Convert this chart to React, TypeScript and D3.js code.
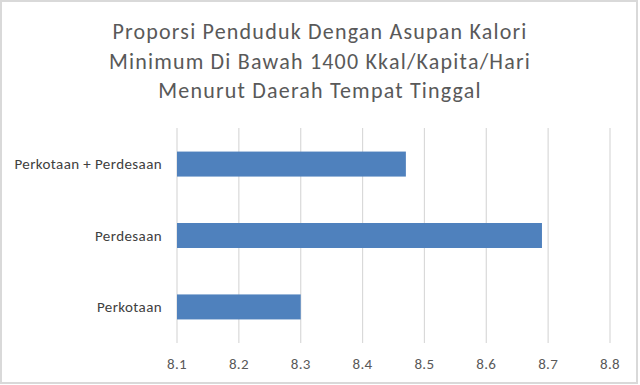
import * as d3 from 'd3'

const categories = ['Perkotaan + Perdesaan', 'Perdesaan', 'Perkotaan']
const values = [8.47, 8.69, 8.3]
const xTicks = [8.1, 8.2, 8.3, 8.4, 8.5, 8.6, 8.7, 8.8]
const titleLines = [
  'Proporsi Penduduk  Dengan Asupan Kalori',
  'Minimum Di Bawah 1400 Kkal/Kapita/Hari',
  'Menurut Daerah Tempat Tinggal',
]

export default function App() {
  const width = 640
  const height = 385
  const margin = { top: 128, right: 30, bottom: 42, left: 177 }
  const innerH = height - margin.top - margin.bottom

  const x = d3.scaleLinear().domain([8.1, 8.8]).range([0, 433])
  const y = d3.scaleBand().domain(categories).range([0, innerH]).paddingInner(0.65).paddingOuter(0.33)

  const font = 'Carlito, Calibri, "Open Sans", sans-serif'

  return (
    <svg
      width={width}
      height={height}
      style={{ position: 'absolute', left: 0, top: 0 }}
      fontFamily={font}
    >
      <rect x={0} y={0} width={width} height={height} fill="#fff" />
      <rect x={1} y={1} width={636} height={382} fill="none" stroke="#d9d9d9" strokeWidth={2} />
      {titleLines.map((t, i) => (
        <text
          key={i}
          x={320}
          y={39 + i * 29.5}
          textAnchor="middle"
          fontSize={22}
          letterSpacing={1.2}
          fill="#595959"
        >
          {t}
        </text>
      ))}
      <g transform={`translate(${margin.left},${margin.top})`}>
        {xTicks.map((t) => (
          <line key={t} x1={x(t)} x2={x(t)} y1={0} y2={innerH} stroke="#d9d9d9" strokeWidth={1.2} />
        ))}
        {categories.map((c, i) => (
          <rect key={c} x={x(8.1)} y={y(c)} width={x(values[i]) - x(8.1)} height={y.bandwidth()} fill="#4f81bd" />
        ))}
        {categories.map((c) => (
          <text
            key={c}
            x={-15}
            y={(y(c) ?? 0) + y.bandwidth() / 2}
            dy="0.35em"
            textAnchor="end"
            fontSize={15}
            letterSpacing={0.4}
            fill="#404040"
          >
            {c}
          </text>
        ))}
        {xTicks.map((t) => (
          <text key={t} x={x(t)} y={241} textAnchor="middle" fontSize={15} letterSpacing={0.3} fill="#595959">
            {t.toFixed(1)}
          </text>
        ))}
      </g>
    </svg>
  )
}
